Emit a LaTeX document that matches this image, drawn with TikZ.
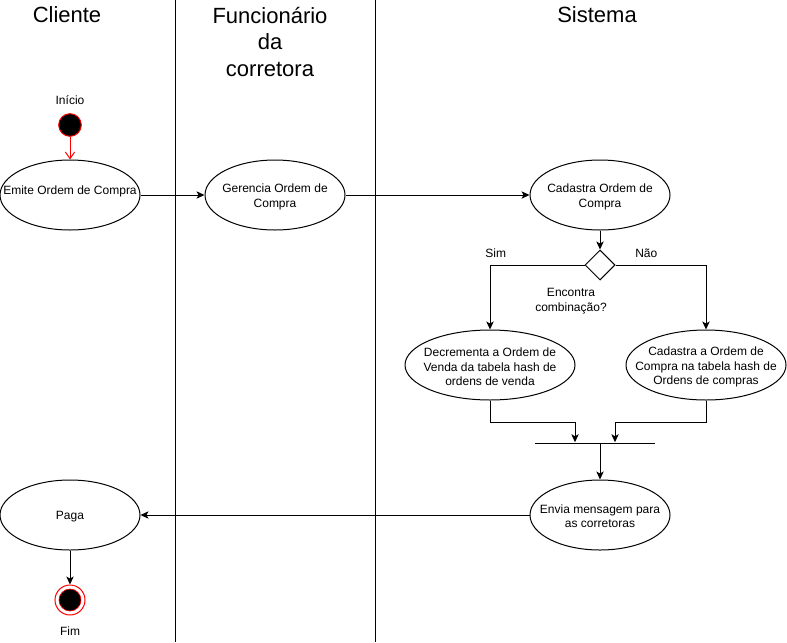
\documentclass[tikz,border=0pt]{standalone}
\usepackage{fontspec}
\setmainfont{Liberation Sans}
\usetikzlibrary{shapes.geometric, arrows.meta, positioning}
\tikzset{
    activity/.style={
        ellipse,
        draw,
        line width=0.75pt,
        minimum width=105pt,
        minimum height=52.5pt,
        inner sep=0pt
    },
    txt/.style={
        align=center,
        inner sep=0pt,
        font=\fontsize{9}{11}\selectfont
    },
    lane/.style={
        align=center,
        inner sep=0pt,
        font=\fontsize{16.5}{20}\selectfont
    },
    decision/.style={
        diamond,
        draw,
        line width=0.75pt,
        minimum width=22.5pt,
        minimum height=22.5pt,
        inner sep=0pt
    },
    joinbar/.style={
        rectangle,
        fill=black,
        minimum width=90pt,
        minimum height=0.75pt,
        inner sep=0pt
    },
    flow/.style={
        -{Stealth[length=6pt, width=5.5pt, inset=1.5pt]},
        line width=0.75pt
    }
}

\begin{document}
\begin{tikzpicture}[x=0.75pt, y=-0.75pt]
    \useasboundingbox (0,0) rectangle (787,642);

    % Lanes
    \draw [line width=0.75pt] (175,0) -- (175,642);
    \draw [line width=0.75pt] (375,0) -- (375,642);
    \node (LaneCliente) [lane] at (67,15) {Cliente};
    \node (LaneFunc) [lane] at (270,42) {Funcionário\\da\\corretora};
    \node (LaneSistema) [lane] at (597,15) {Sistema};

    % Start and end states
    \node (Inicio) [circle, draw=red, fill=black, line width=0.75pt, minimum size=17pt, inner sep=0pt,
        label={[txt, yshift=6pt]above:Início}] at (70,125) {};
    \node (Fim) [circle, draw=red, fill=white, line width=0.75pt, minimum size=22.5pt, inner sep=0pt,
        label={[txt, yshift=-8pt]below:Fim}] at (70,600) {};
    \node (FimDot) [circle, draw=red, fill=black, line width=0.5pt, minimum size=16.5pt, inner sep=0pt] at (Fim) {};

    % Activities
    \node (Emite) [activity, label={[txt, yshift=3pt]center:Emite Ordem de Compra}] at (70,195) {};
    \node (Gerencia) [activity, label={[txt, yshift=-1.5pt]center:Gerencia Ordem de\\Compra}] at (275,195) {};
    \node (Cadastra) [activity, label={[txt, yshift=-1.5pt]center:Cadastra Ordem de\\Compra}] at (600,195) {};
    \node (Decisao) [decision] at (600,265) {};
    \node (Pergunta) [txt] at (571,301) {Encontra\\combinação?};
    \node (Decrementa) [activity, minimum width=127.5pt,
        label={[txt, yshift=-1.5pt]center:Decrementa a Ordem de\\Venda da tabela hash de\\ordens de venda}] at (490,365) {};
    \node (CadastraHash) [activity, minimum width=120pt,
        label={[txt, yshift=-1.5pt]center:Cadastra a Ordem de\\Compra na tabela hash de\\Ordens de compras}] at (706,365) {};
    \node (Join) [joinbar] at (595,443) {};
    \node (Envia) [activity, label={[txt, yshift=-1pt]center:Envia mensagem para\\as corretoras}] at (600,515) {};
    \node (Paga) [activity, label={[txt, yshift=-1.5pt]center:Paga}] at (70,515) {};

    % Flows
    \draw [red, line width=0.75pt, -{Straight Barb[length=5pt, width=7pt]}] (Inicio) -- (Emite);
    \draw [flow] (Emite) -- (Gerencia);
    \draw [flow] (Gerencia) -- (Cadastra);
    \draw [flow] (Cadastra) -- (Decisao);
    \draw [flow] (Decisao.west) -| node [txt, pos=0.47, above=5pt] {Sim} (Decrementa.north);
    \draw [flow] (Decisao.east) -| node [txt, pos=0.17, above=5pt] {Não} (CadastraHash.north);
    \draw [flow] (Decrementa.south) -- ++(0,22) -| ([xshift=-15pt]Join.north);
    \draw [flow] (CadastraHash.south) -- ++(0,22) -| ([xshift=15pt]Join.north);
    \draw [flow] (Join.south -| Envia.north) -- (Envia.north);
    \draw [flow] (Envia) -- (Paga);
    \draw [flow] (Paga) -- (Fim);

\end{tikzpicture}
\end{document}
